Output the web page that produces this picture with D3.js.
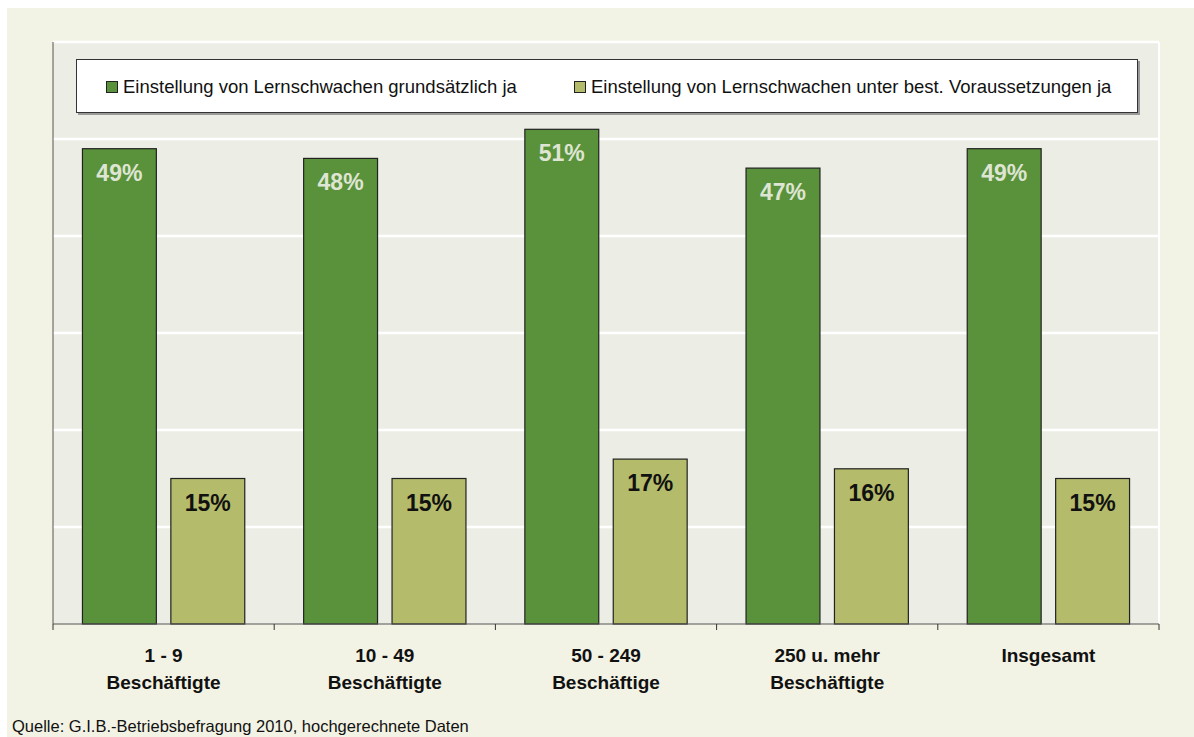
<!DOCTYPE html>
<html>
<head>
<meta charset="utf-8">
<script src="https://cdn.jsdelivr.net/npm/d3@7"></script>
<style>
  html, body { margin: 0; padding: 0; background: #ffffff; }
  svg { display: block; }
</style>
</head>
<body>
<svg id="chart" width="1194" height="737"></svg>
<script>
const categories = [["1 - 9", "Beschäftigte"], ["10 - 49", "Beschäftigte"], ["50 - 249", "Beschäftige"], ["250 u. mehr", "Beschäftigte"], ["Insgesamt"]];
const seriesNames = ["Einstellung von Lernschwachen grundsätzlich ja", "Einstellung von Lernschwachen unter best. Voraussetzungen ja"];
const grundsaetzlich = [49, 48, 51, 47, 49];
const unterBedingungen = [15, 15, 17, 16, 15];
const yTicks = [0, 10, 20, 30, 40, 50, 60];
const sourceText = "Quelle: G.I.B.-Betriebsbefragung 2010, hochgerechnete Daten";

const colors = ["#5a923b", "#b4bb6a"];
const labelColors = ["#dfe5d3", "#111111"];

const svg = d3.select("#chart");
const W = 1194, H = 737;
const font = "'Liberation Sans', Arial, sans-serif";

svg.append("rect").attr("x", 7).attr("y", 8).attr("width", W - 7).attr("height", H - 8).attr("fill", "#f3f3e5");

const plot = { left: 53, top: 42, right: 1159, bottom: 624 };

svg.append("rect").attr("x", plot.left).attr("y", plot.top)
  .attr("width", plot.right - plot.left).attr("height", plot.bottom - plot.top)
  .attr("fill", "#eceee6");

const y = d3.scaleLinear().domain([0, 60]).range([plot.bottom, plot.top]);
const idx = d3.range(categories.length);
const x0 = d3.scaleBand().domain(idx).range([plot.left, plot.right]).paddingInner(0).paddingOuter(0);
const x1 = d3.scaleBand().domain([0, 1]).range([0, x0.bandwidth()]).paddingInner(0.164).paddingOuter(0.333);

svg.append("g").selectAll("line").data(yTicks.filter(t => t > 0)).join("line")
  .attr("x1", plot.left).attr("x2", plot.right)
  .attr("y1", d => y(d)).attr("y2", d => y(d))
  .attr("stroke", "#ffffff").attr("stroke-width", 2.5);
svg.append("line").attr("x1", plot.right).attr("x2", plot.right).attr("y1", plot.top).attr("y2", plot.bottom)
  .attr("stroke", "#ffffff").attr("stroke-width", 2);

const series = [grundsaetzlich, unterBedingungen];

series.forEach((vals, s) => {
  const g = svg.append("g");
  g.selectAll("rect").data(vals).join("rect")
    .attr("x", (d, i) => x0(i) + x1(s))
    .attr("y", d => y(d))
    .attr("width", x1.bandwidth())
    .attr("height", d => y(0) - y(d))
    .attr("fill", colors[s])
    .attr("stroke", "#222222").attr("stroke-width", 1.2);
  g.selectAll("text").data(vals).join("text")
    .attr("x", (d, i) => x0(i) + x1(s) + x1.bandwidth() / 2)
    .attr("y", d => y(d) + 32)
    .attr("text-anchor", "middle")
    .attr("font-family", font).attr("font-weight", "bold").attr("font-size", 23)
    .attr("fill", labelColors[s])
    .text(d => d + "%");
});

const axG = svg.append("g").attr("transform", `translate(0,${plot.bottom})`);
axG.append("line").attr("x1", plot.left).attr("x2", plot.right).attr("y1", 0).attr("y2", 0)
  .attr("stroke", "#555").attr("stroke-width", 1);
const boundaries = idx.map(i => x0(i)).concat([plot.right]);
axG.selectAll("line.tick").data(boundaries).join("line").attr("class", "tick")
  .attr("x1", d => d).attr("x2", d => d).attr("y1", 0).attr("y2", 6)
  .attr("stroke", "#333").attr("stroke-width", 1);

svg.append("line").attr("x1", plot.left).attr("x2", plot.left).attr("y1", plot.top).attr("y2", plot.bottom)
  .attr("stroke", "#555").attr("stroke-width", 1);

const catG = svg.append("g");
categories.forEach((lines, i) => {
  const cx = x0(i) + x0.bandwidth() / 2;
  const t = catG.append("text")
    .attr("x", cx)
    .attr("y", 662)
    .attr("text-anchor", "middle")
    .attr("font-family", font).attr("font-weight", "bold").attr("font-size", 19)
    .attr("fill", "#111");
  lines.forEach((l, k) => {
    t.append("tspan").attr("x", cx).attr("dy", k === 0 ? 0 : 27).text(l);
  });
});

const lg = svg.append("g");
lg.append("rect").attr("x", 78).attr("y", 61).attr("width", 1062).attr("height", 54).attr("fill", "#9a9a9a");
lg.append("rect").attr("x", 76.5).attr("y", 59.5).attr("width", 1061).attr("height", 53)
  .attr("fill", "#ffffff").attr("stroke", "#333").attr("stroke-width", 1);
const legX = [106, 574];
seriesNames.forEach((name, s) => {
  lg.append("rect").attr("x", legX[s] + 0.5).attr("y", 81.5).attr("width", 11).attr("height", 11)
    .attr("fill", colors[s]).attr("stroke", "#222").attr("stroke-width", 1);
  lg.append("text").attr("x", legX[s] + 17).attr("y", 93)
    .attr("font-family", font).attr("font-size", 18.5).attr("fill", "#111").text(name);
});

svg.append("text").attr("x", 12).attr("y", 732)
  .attr("font-family", font).attr("font-size", 16.5).attr("fill", "#111").text(sourceText);
</script>
</body>
</html>
